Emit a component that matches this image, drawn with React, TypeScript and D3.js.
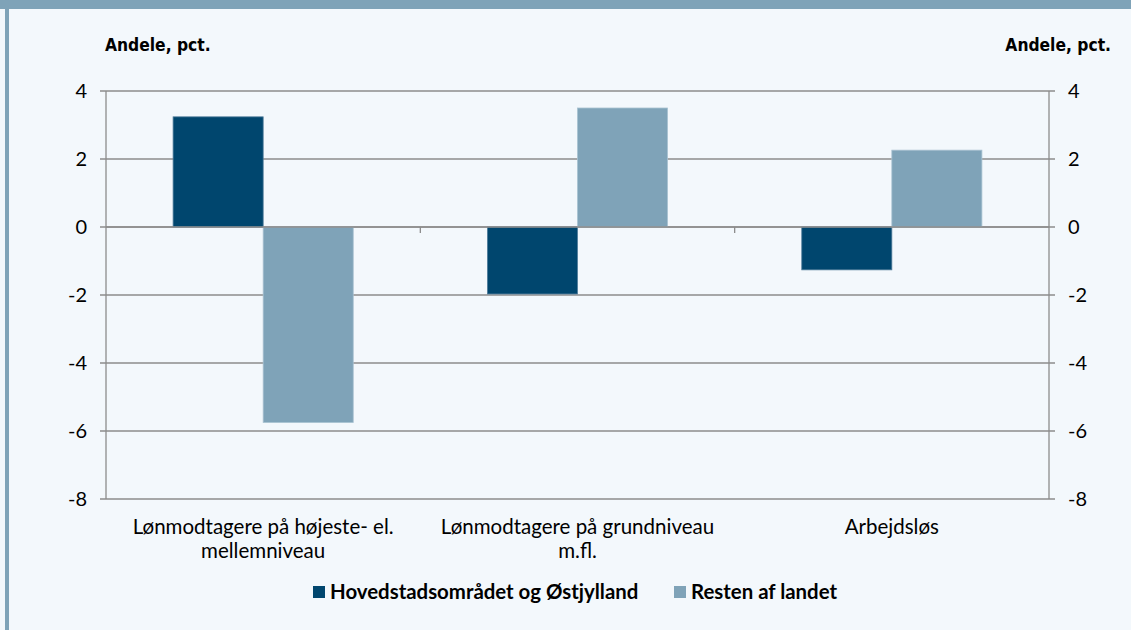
import React, { useRef, useEffect } from 'react';
import * as d3 from 'd3';

const categories = [
  ['Lønmodtagere på højeste- el.', 'mellemniveau'],
  ['Lønmodtagere på grundniveau', 'm.fl.'],
  ['Arbejdsløs'],
];
const seriesNames = ['Hovedstadsområdet og Østjylland', 'Resten af landet'];
const hovedstad = [3.24, -1.97, -1.26];
const resten = [-5.75, 3.5, 2.26];
const yTicks = [4, 2, 0, -2, -4, -6, -8];
const colors = ['#00466e', '#7fa3b8'];

const W = 1131;
const H = 630;

const Chart = () => {
  const ref = useRef<SVGSVGElement>(null);

  useEffect(() => {
    if (!ref.current) return;
    const svg = d3.select(ref.current);
    svg.selectAll('*').remove();

    const left = 106;
    const right = 1049;
    const top = 91;
    const bottom = 499;
    const font = 'Lato, sans-serif';

    // baggrund og ramme
    svg.append('rect').attr('width', W).attr('height', H).attr('fill', '#f3f8fc');
    svg.append('rect').attr('width', W).attr('height', 9).attr('fill', '#7fa3b8');
    svg.append('rect').attr('x', 5).attr('width', 4).attr('height', H).attr('fill', '#7fa3b8');

    const x = d3
      .scaleBand()
      .domain(categories.map((_, i) => String(i)))
      .range([left, right]);
    const xInner = d3
      .scaleBand()
      .domain(seriesNames)
      .range([0, x.bandwidth()])
      .paddingOuter(0.745);
    const y = d3.scaleLinear().domain([-8, 4]).range([bottom, top]);

    // gitterlinjer
    svg
      .append('g')
      .selectAll('line')
      .data(yTicks)
      .enter()
      .append('line')
      .attr('x1', left - 6)
      .attr('x2', right + 6)
      .attr('y1', (d) => y(d))
      .attr('y2', (d) => y(d))
      .attr('stroke', '#8c8c8c')
      .attr('stroke-width', 1.3);

    // akser
    [left, right].forEach((ax) => {
      svg
        .append('line')
        .attr('x1', ax)
        .attr('x2', ax)
        .attr('y1', top)
        .attr('y2', bottom)
        .attr('stroke', '#8c8c8c')
        .attr('stroke-width', 1.3);
    });

    // søjler
    const series = [hovedstad, resten];
    series.forEach((vals, s) => {
      svg
        .append('g')
        .selectAll('rect')
        .data(vals)
        .enter()
        .append('rect')
        .attr('x', (_, i) => (x(String(i)) as number) + (xInner(seriesNames[s]) as number))
        .attr('y', (d) => y(Math.max(0, d)))
        .attr('width', xInner.bandwidth())
        .attr('height', (d) => Math.abs(y(d) - y(0)))
        .attr('fill', colors[s])
        .attr('stroke', s === 0 ? '#4f7c9a' : '#a9c2d1')
        .attr('stroke-width', 0.8);
    });

    // nullinje og kategorimarkeringer
    svg
      .append('line')
      .attr('x1', left)
      .attr('x2', right)
      .attr('y1', y(0))
      .attr('y2', y(0))
      .attr('stroke', '#8c8c8c')
      .attr('stroke-width', 1.3);
    svg
      .append('g')
      .selectAll('line')
      .data(categories.slice(1))
      .enter()
      .append('line')
      .attr('x1', (_, i) => x(String(i + 1)) as number)
      .attr('x2', (_, i) => x(String(i + 1)) as number)
      .attr('y1', y(0))
      .attr('y2', y(0) + 6)
      .attr('stroke', '#8c8c8c')
      .attr('stroke-width', 1.3);

    // y-etiketter
    svg
      .append('g')
      .selectAll('text')
      .data(yTicks)
      .enter()
      .append('text')
      .text((d) => d)
      .attr('x', 87)
      .attr('y', (d) => y(d) + 7)
      .attr('text-anchor', 'end')
      .attr('font-size', '20px')
      .attr('fill', '#000')
      .style('font-family', font);
    svg
      .append('g')
      .selectAll('text')
      .data(yTicks)
      .enter()
      .append('text')
      .text((d) => d)
      .attr('x', 1068)
      .attr('y', (d) => y(d) + 7)
      .attr('font-size', '20px')
      .attr('fill', '#000')
      .style('font-family', font);

    // aksetitler
    svg
      .append('text')
      .text('Andele, pct.')
      .attr('x', 105)
      .attr('y', 51)
      .attr('font-size', '17.3px')
      .attr('font-weight', 'bold')
      .style('font-family', 'DejaVu Sans Condensed, sans-serif')
      .attr('fill', '#000');
    svg
      .append('text')
      .text('Andele, pct.')
      .attr('x', 1111)
      .attr('y', 51)
      .attr('text-anchor', 'end')
      .attr('font-size', '17.3px')
      .attr('font-weight', 'bold')
      .style('font-family', 'DejaVu Sans Condensed, sans-serif')
      .attr('fill', '#000');

    // kategorietiketter
    categories.forEach((lines, i) => {
      const cx = (x(String(i)) as number) + x.bandwidth() / 2;
      lines.forEach((ln, j) => {
        svg
          .append('text')
          .text(ln)
          .attr('x', cx)
          .attr('y', 534 + j * 24)
          .attr('text-anchor', 'middle')
          .attr('font-size', '20.5px')
          .attr('fill', '#000')
          .style('font-family', font);
      });
    });

    // forklaring
    const legendX = [313, 674];
    seriesNames.forEach((name, s) => {
      svg
        .append('rect')
        .attr('x', legendX[s])
        .attr('y', 586)
        .attr('width', 12)
        .attr('height', 12)
        .attr('fill', colors[s]);
      svg
        .append('text')
        .text(name)
        .attr('x', legendX[s] + 17)
        .attr('y', 599)
        .attr('font-size', '20.4px')
        .attr('font-weight', 'bold')
        .attr('fill', '#000')
        .style('font-family', font);
    });
  }, []);

  return (
    <svg
      ref={ref}
      width={W}
      height={H}
      style={{ position: 'absolute', left: 0, top: 0, display: 'block' }}
    />
  );
};

export default function App() {
  return <Chart />;
}
